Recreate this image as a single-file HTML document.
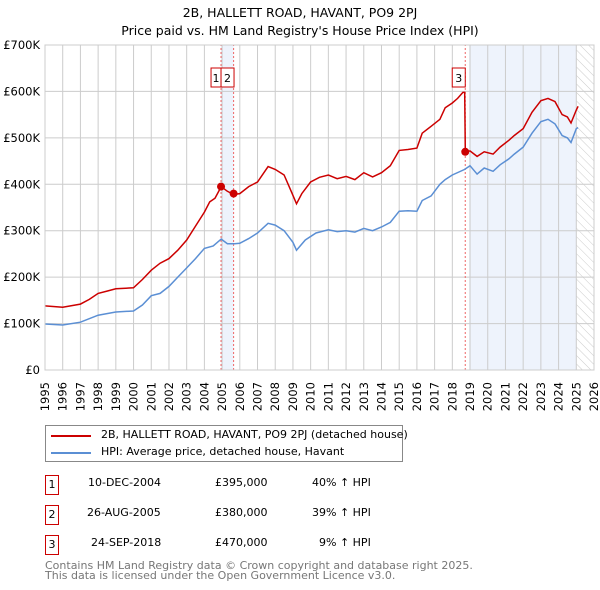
<!DOCTYPE html>
<html><head><meta charset="utf-8"><style>
body{margin:0;width:600px;height:590px;background:#fff;font-family:"DejaVu Sans","Liberation Sans",sans-serif;overflow:hidden;position:relative}
.t{position:absolute;font-size:11px;color:#000;white-space:nowrap}
.nb{position:absolute;width:14px;height:20px;border:1px solid #c00;font-size:11px;text-align:center;line-height:18px;box-sizing:border-box}
</style></head><body>
<svg id="c" width="600" height="420" style="position:absolute;left:0;top:0" font-family="DejaVu Sans, Liberation Sans, sans-serif"></svg>
<div style="position:absolute;left:45px;top:425px;width:358px;height:37px;border:1px solid #888;box-sizing:border-box">
<div><div style="position:absolute;left:5px;top:9px;width:40px;height:2px;background:#c00"></div><div class="t" style="left:55px;top:2px">2B, HALLETT ROAD, HAVANT, PO9 2PJ (detached house)</div></div>
<div><div style="position:absolute;left:5px;top:26px;width:40px;height:2px;background:#5b8fd4"></div><div class="t" style="left:55px;top:19px">HPI: Average price, detached house, Havant</div></div>
</div>
<div>
<div class="nb" style="left:45px;top:475px">1</div>
<div class="t" style="left:88px;top:476px">10-DEC-2004</div><div class="t" style="left:215px;top:476px">£395,000</div><div class="t" style="left:312px;top:476px">40% ↑ HPI</div>
<div class="nb" style="left:45px;top:505px">2</div>
<div class="t" style="left:87px;top:506px">26-AUG-2005</div><div class="t" style="left:215px;top:506px">£380,000</div><div class="t" style="left:312px;top:506px">39% ↑ HPI</div>
<div class="nb" style="left:45px;top:535px">3</div>
<div class="t" style="left:91px;top:536px">24-SEP-2018</div><div class="t" style="left:215px;top:536px">£470,000</div><div class="t" style="left:319px;top:536px">9% ↑ HPI</div>
</div>
<div class="t" style="left:45px;top:561px;color:#777;font-size:11px;line-height:10px">Contains HM Land Registry data © Crown copyright and database right 2025.<br>This data is licensed under the Open Government Licence v3.0.</div>
<script>
const years=[1995,1996,1997,1998,1999,2000,2001,2002,2003,2004,2005,2006,2007,2008,2009,2010,2011,2012,2013,2014,2015,2016,2017,2018,2019,2020,2021,2022,2023,2024,2025,2026];
const yTicks=[0,100,200,300,400,500,600,700];
const hpiT=[1995,1996,1997,1998,1999,2000,2000.5,2001,2001.5,2002,2002.5,2003,2003.5,2004,2004.5,2004.95,2005.3,2005.7,2006,2006.5,2007,2007.6,2008,2008.5,2009,2009.2,2009.7,2010.3,2011,2011.5,2012,2012.5,2013,2013.5,2014,2014.5,2015,2015.5,2016,2016.3,2016.8,2017.3,2017.6,2018,2018.7,2019,2019.4,2019.8,2020.3,2020.7,2021.2,2021.5,2022,2022.5,2023,2023.4,2023.8,2024.2,2024.5,2024.7,2025,2025.1];
const hpiV=[99,97,103,118,125,127,140,160,165,180,200,220,240,262,267,282,272,272,273,283,295,316,312,300,275,258,280,295,302,298,300,297,305,300,308,318,342,343,342,365,375,400,410,420,432,440,422,435,428,442,455,465,480,510,535,540,530,505,500,490,520,522];
const redT=[1995,1996,1997,1997.5,1998,1998.5,1999,2000,2000.5,2001,2001.5,2002,2002.5,2003,2003.5,2004,2004.3,2004.6,2004.95,2005.3,2005.65,2006,2006.5,2007,2007.6,2008,2008.5,2008.9,2009.2,2009.5,2010,2010.5,2011,2011.5,2012,2012.5,2013,2013.5,2014,2014.5,2015,2015.5,2016,2016.3,2016.8,2017.3,2017.6,2018,2018.3,2018.6,2018.7,2018.73,2019,2019.4,2019.8,2020.3,2020.7,2021.2,2021.5,2022,2022.5,2023,2023.4,2023.8,2024.2,2024.5,2024.7,2025,2025.1];
const redV=[138,135,142,152,165,170,175,177,195,215,230,240,258,280,310,340,362,370,395,385,378,380,395,405,438,432,420,385,358,380,405,415,420,412,417,410,425,416,425,440,473,475,478,510,525,540,565,575,585,598,598,470,472,460,470,465,480,495,505,520,555,580,585,578,550,545,532,560,568];
const saleT=[2004.94,2005.65,2018.73];
const saleV=[395,380,470];
const saleLbl=["1","2","3"];
const X=t=>45+(t-1995)*(549/31), Y=v=>370-v*(325/700);
const svg=document.getElementById('c'),NS='http://www.w3.org/2000/svg';
function mk(tag,a,name){const e=document.createElementNS(NS,tag);for(const k in a)e.setAttribute(k,a[k]);


svg.appendChild(e);return e;}
const defs=mk('defs',{},'defs');defs.innerHTML='<pattern id="h" width="6" height="6" patternUnits="userSpaceOnUse" patternTransform="rotate(-45)"><line x1="0" y1="0" x2="0" y2="6" stroke="#ccc" stroke-width="1"/></pattern>';
mk('rect',{x:X(saleT[0]),y:Y(700),width:X(saleT[1])-X(saleT[0]),height:Y(0)-Y(700),fill:'#eef3fc'},'shade-sales-1-2');
mk('rect',{x:X(2018.95),y:Y(700),width:X(2025)-X(2018.95),height:Y(0)-Y(700),fill:'#eef3fc'},'shade-sale-3');
mk('rect',{x:X(2025),y:Y(700),width:X(2026)-X(2025),height:Y(0)-Y(700),fill:'url(#h)'},'future-hatch');
years.forEach(y=>{mk('line',{x1:X(y),x2:X(y),y1:Y(0),y2:Y(700),stroke:'#ccc'},'x-grid-line');
const t=mk('text',{x:X(y)+4,y:382,'text-anchor':'end','font-size':11.5,transform:`rotate(-90 ${X(y)+4} 382)`},'x-tick-label');t.textContent=y;});
yTicks.forEach(v=>{mk('line',{x1:X(1995),x2:X(2026),y1:Y(v),y2:Y(v),stroke:'#ccc'},'y-grid-line');
const t=mk('text',{x:40,y:Y(v)+4,'text-anchor':'end','font-size':11.5},'y-tick-label');t.textContent=v?'£'+v+'K':'£0';});
saleT.forEach(t=>mk('line',{x1:X(t),x2:X(t),y1:Y(0),y2:Y(700),stroke:'#e66','stroke-dasharray':'2,2'},'sale-marker-line'));
const pts=(T,V)=>T.map((t,i)=>X(t).toFixed(1)+','+Y(V[i]).toFixed(1)).join(' ');
mk('polyline',{points:pts(hpiT,hpiV),fill:'none',stroke:'#5b8fd4','stroke-width':1.5},'hpi-line');
mk('polyline',{points:pts(redT,redV),fill:'none',stroke:'#c00','stroke-width':1.5},'property-price-line');
saleT.forEach((t,i)=>mk('circle',{cx:X(t),cy:Y(saleV[i]),r:4,fill:'#c00'},'sale-point'));
const bx=[X(saleT[0])-10,X(saleT[0]),X(saleT[2])-13];
saleLbl.forEach((l,i)=>{mk('rect',{x:bx[i],y:68,width:i==0?10:13,height:19,fill:'#fff',stroke:'#c00'},'sale-label-box');
const t=mk('text',{x:bx[i]+(i==0?5:6.5),y:82,'text-anchor':'middle','font-size':11},'sale-label');t.textContent=l;});
mk('rect',{x:X(1995),y:Y(700),width:X(2026)-X(1995),height:Y(0)-Y(700),fill:'none',stroke:'#ccc'},'plot-border');
let t=mk('text',{x:300,y:17,'text-anchor':'middle','font-size':12.5},'chart-title');t.textContent='2B, HALLETT ROAD, HAVANT, PO9 2PJ';
t=mk('text',{x:300,y:35,'text-anchor':'middle','font-size':12.5},'chart-subtitle');t.textContent="Price paid vs. HM Land Registry's House Price Index (HPI)";
</script>
</body></html>
